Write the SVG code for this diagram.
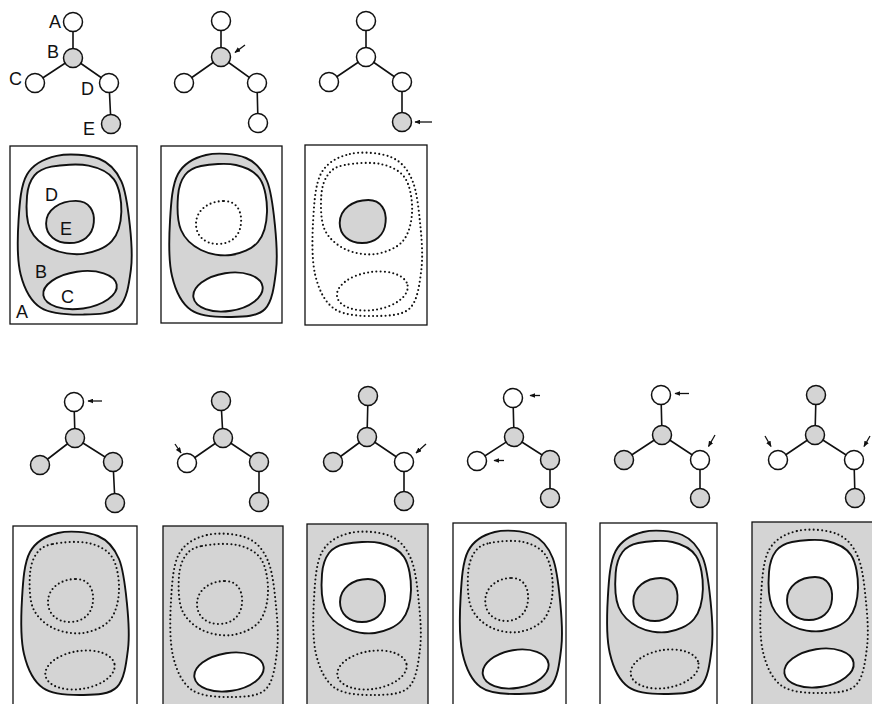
<svg xmlns="http://www.w3.org/2000/svg" xmlns:xlink="http://www.w3.org/1999/xlink" width="872" height="704" viewBox="0 0 872 704">
<style>
.bg{fill:#ffffff}
.box{stroke:#111;stroke-width:1.3}
.bw{fill:#ffffff}
.bgray{fill:#d4d4d4}
.sol{stroke:#111;stroke-width:1.9;stroke-linejoin:round}
.dot{stroke:#111;stroke-width:2.1;stroke-dasharray:0 4.2;stroke-linecap:round}
.fw{fill:#ffffff}
.fg{fill:#d4d4d4}
.fn{fill:none}
.nd{stroke:#111;stroke-width:1.5}
.ln{stroke:#111;stroke-width:1.6;fill:none}
.ar{stroke:#111;stroke-width:1.3;fill:none}
.lb{font-family:"Liberation Sans",Arial,sans-serif;font-size:18px;fill:#111}
</style>
<defs>
<path id="outer" vector-effect="non-scaling-stroke" d="M45,9 C56.3,6.3 74.8,7.7 85,12 C95.2,16.3 101.2,23.7 106,35 C110.8,46.3 112.5,65 114,80 C115.5,95 116.7,111.2 115,125 C113.3,138.8 111.5,155.3 104,163 C96.5,170.7 82.3,170.8 70,171 C57.7,171.2 39.8,170.8 30,164 C20.2,157.2 14.5,144.8 11,130 C7.5,115.2 8,92 9,75 C10,58 11,39 17,28 C23,17 33.7,11.7 45,9 Z"/>
<path id="dreg" vector-effect="non-scaling-stroke" d="M40,20 C48.5,18.3 65.2,16.8 75,19 C84.8,21.2 93.8,25.2 99,33 C104.2,40.8 106.3,55.5 106,66 C105.7,76.5 103,88.8 97,96 C91,103.2 79.5,107.7 70,109 C60.5,110.3 48.3,108.2 40,104 C31.7,99.8 23.8,93 20,84 C16.2,75 16.3,59.2 17,50 C17.7,40.8 20.2,34 24,29 C27.8,24 31.5,21.7 40,20 Z"/>
<path id="ereg" vector-effect="non-scaling-stroke" d="M63,55 C76,55 81,66 80,77 C79,91 69,98 57,98 C44,98 35,90 35,78 C35,64 48,55 63,55 Z"/>
<ellipse id="creg" vector-effect="non-scaling-stroke" cx="67" cy="146" rx="35" ry="19" transform="rotate(-9 67 146)"/>
<marker id="ah" viewBox="0 0 10 10" refX="9" refY="5" markerWidth="6" markerHeight="5" markerUnits="userSpaceOnUse" orient="auto" preserveAspectRatio="none"><path d="M0,0 L10,5 L0,10 z" fill="#111"/></marker>
</defs>
<rect class="bg" x="0" y="0" width="872" height="704"/>

<!-- Region panels -->
<g id="panel-top1">
<rect class="box bw" x="10" y="146" width="127" height="178"/>
<g transform="translate(9,147) scale(1.06,0.98)">
<use href="#outer" class="sol fg"/>
<use href="#dreg" class="sol fw"/>
<use href="#ereg" class="sol fg"/>
<use href="#creg" class="sol fw"/>
</g>
<text class="lb" x="45" y="201">D</text>
<text class="lb" x="60" y="235">E</text>
<text class="lb" x="35" y="278">B</text>
<text class="lb" x="61" y="303">C</text>
<text class="lb" x="16" y="318">A</text>
</g>
<g id="panel-top2">
<rect class="box bw" x="161" y="146" width="121" height="177"/>
<g transform="translate(161,146)">
<use href="#outer" class="sol fg"/>
<use href="#dreg" class="sol fw"/>
<use href="#ereg" class="dot fn"/>
<use href="#creg" class="sol fw"/>
</g>
</g>
<g id="panel-top3">
<rect class="box bw" x="305" y="145" width="122" height="180"/>
<g transform="translate(304,145) scale(1.02,1)">
<use href="#outer" class="dot fn"/>
<use href="#dreg" class="dot fn"/>
<use href="#ereg" class="sol fg"/>
<use href="#creg" class="dot fn"/>
</g>
</g>
<g id="panel-bot1">
<rect class="box bw" x="13" y="526" width="124" height="190"/>
<g transform="translate(13,524)">
<use href="#outer" class="sol fg"/>
<use href="#dreg" class="dot fn"/>
<use href="#ereg" class="dot fn"/>
<use href="#creg" class="dot fn"/>
</g>
</g>
<g id="panel-bot2">
<rect class="box bgray" x="163" y="526" width="120" height="190"/>
<g transform="translate(162,526)">
<use href="#outer" class="dot fn"/>
<use href="#dreg" class="dot fn"/>
<use href="#ereg" class="dot fn"/>
<use href="#creg" class="sol fw"/>
</g>
</g>
<g id="panel-bot3">
<rect class="box bgray" x="307" y="524" width="121" height="190"/>
<g transform="translate(305,524)">
<use href="#outer" class="dot fn"/>
<use href="#dreg" class="sol fw"/>
<use href="#ereg" class="sol fg"/>
<use href="#creg" class="dot fn"/>
</g>
</g>
<g id="panel-bot4">
<rect class="box bw" x="453" y="523" width="113" height="190"/>
<g transform="translate(452,523) scale(0.95,1)">
<use href="#outer" class="sol fg"/>
<use href="#dreg" class="dot fn"/>
<use href="#ereg" class="dot fn"/>
<use href="#creg" class="sol fw"/>
</g>
</g>
<g id="panel-bot5">
<rect class="box bw" x="600" y="523" width="117" height="190"/>
<g transform="translate(599,523) scale(0.98,1)">
<use href="#outer" class="sol fg"/>
<use href="#dreg" class="sol fw"/>
<use href="#ereg" class="sol fg"/>
<use href="#creg" class="dot fn"/>
</g>
</g>
<g id="panel-bot6">
<rect class="box bgray" x="752" y="522" width="130" height="190"/>
<g transform="translate(752,522)">
<use href="#outer" class="dot fn"/>
<use href="#dreg" class="sol fw"/>
<use href="#ereg" class="sol fg"/>
<use href="#creg" class="sol fw"/>
</g>
</g>

<!-- Connectors -->
<g id="connectors">
<path class="ln" d="M73,22 L73,58 M73,58 L35,83 M73,58 L109,83 L111,124"/>
<path class="ln" d="M221,21 L221,57 M221,57 L184,83 M221,57 L257,83 L258,123"/>
<path class="ln" d="M366,21 L366,57 M366,57 L329,82 M366,57 L402,82 L402,122"/>
<path class="ln" d="M74,402 L75,438 M75,438 L40,465 M75,438 L113,462 L115,503"/>
<path class="ln" d="M221,401 L223,438 M223,438 L187,463 M223,438 L259,462 L259,502"/>
<path class="ln" d="M368,396 L367,437 M367,437 L333,462 M367,437 L404,462 L404,501"/>
<path class="ln" d="M513,398 L514,437 M514,437 L477,461 M514,437 L550,460 L550,498"/>
<path class="ln" d="M661,395 L662,435 M662,435 L624,460 M662,435 L700,460 L700,498"/>
<path class="ln" d="M816,395 L815,435 M815,435 L778,460 M815,435 L854,460 L855,498"/>
</g>

<!-- Tree nodes -->
<g id="t1-A"><circle class="nd fw" cx="73" cy="22" r="9.5"/><text class="lb" x="49" y="28">A</text></g>
<g id="t1-B"><circle class="nd fg" cx="73" cy="58" r="9.5"/><text class="lb" x="47" y="58">B</text></g>
<g id="t1-C"><circle class="nd fw" cx="35" cy="83" r="9.5"/><text class="lb" x="9" y="85">C</text></g>
<g id="t1-D"><circle class="nd fw" cx="109" cy="83" r="9.5"/><text class="lb" x="81" y="95">D</text></g>
<g id="t1-E"><circle class="nd fg" cx="111" cy="124" r="9.5"/><text class="lb" x="83" y="135">E</text></g>

<g id="t2-A"><circle class="nd fw" cx="221" cy="21" r="9.5"/></g>
<g id="t2-B"><circle class="nd fg" cx="221" cy="57" r="9.5"/></g>
<g id="t2-C"><circle class="nd fw" cx="184" cy="83" r="9.5"/></g>
<g id="t2-D"><circle class="nd fw" cx="257" cy="83" r="9.5"/></g>
<g id="t2-E"><circle class="nd fw" cx="258" cy="123" r="9.5"/></g>

<g id="t3-A"><circle class="nd fw" cx="366" cy="21" r="9.5"/></g>
<g id="t3-B"><circle class="nd fw" cx="366" cy="57" r="9.5"/></g>
<g id="t3-C"><circle class="nd fw" cx="329" cy="82" r="9.5"/></g>
<g id="t3-D"><circle class="nd fw" cx="402" cy="82" r="9.5"/></g>
<g id="t3-E"><circle class="nd fg" cx="402" cy="122" r="9.5"/></g>

<g id="b1-A"><circle class="nd fw" cx="74" cy="402" r="9.5"/></g>
<g id="b1-B"><circle class="nd fg" cx="75" cy="438" r="9.5"/></g>
<g id="b1-C"><circle class="nd fg" cx="40" cy="465" r="9.5"/></g>
<g id="b1-D"><circle class="nd fg" cx="113" cy="462" r="9.5"/></g>
<g id="b1-E"><circle class="nd fg" cx="115" cy="503" r="9.5"/></g>

<g id="b2-A"><circle class="nd fg" cx="221" cy="401" r="9.5"/></g>
<g id="b2-B"><circle class="nd fg" cx="223" cy="438" r="9.5"/></g>
<g id="b2-C"><circle class="nd fw" cx="187" cy="463" r="9.5"/></g>
<g id="b2-D"><circle class="nd fg" cx="259" cy="462" r="9.5"/></g>
<g id="b2-E"><circle class="nd fg" cx="259" cy="502" r="9.5"/></g>

<g id="b3-A"><circle class="nd fg" cx="368" cy="396" r="9.5"/></g>
<g id="b3-B"><circle class="nd fg" cx="367" cy="437" r="9.5"/></g>
<g id="b3-C"><circle class="nd fg" cx="333" cy="462" r="9.5"/></g>
<g id="b3-D"><circle class="nd fw" cx="404" cy="462" r="9.5"/></g>
<g id="b3-E"><circle class="nd fg" cx="404" cy="501" r="9.5"/></g>

<g id="b4-A"><circle class="nd fw" cx="513" cy="398" r="9.5"/></g>
<g id="b4-B"><circle class="nd fg" cx="514" cy="437" r="9.5"/></g>
<g id="b4-C"><circle class="nd fw" cx="477" cy="461" r="9.5"/></g>
<g id="b4-D"><circle class="nd fg" cx="550" cy="460" r="9.5"/></g>
<g id="b4-E"><circle class="nd fg" cx="550" cy="498" r="9.5"/></g>

<g id="b5-A"><circle class="nd fw" cx="661" cy="395" r="9.5"/></g>
<g id="b5-B"><circle class="nd fg" cx="662" cy="435" r="9.5"/></g>
<g id="b5-C"><circle class="nd fg" cx="624" cy="460" r="9.5"/></g>
<g id="b5-D"><circle class="nd fw" cx="700" cy="460" r="9.5"/></g>
<g id="b5-E"><circle class="nd fg" cx="700" cy="498" r="9.5"/></g>

<g id="b6-A"><circle class="nd fg" cx="816" cy="395" r="9.5"/></g>
<g id="b6-B"><circle class="nd fg" cx="815" cy="435" r="9.5"/></g>
<g id="b6-C"><circle class="nd fw" cx="778" cy="460" r="9.5"/></g>
<g id="b6-D"><circle class="nd fw" cx="854" cy="460" r="9.5"/></g>
<g id="b6-E"><circle class="nd fg" cx="855" cy="498" r="9.5"/></g>

<!-- Pointer arrows -->
<g id="pointers">
<line class="ar" x1="245" y1="45" x2="235" y2="52.5" marker-end="url(#ah)"/>
<line class="ar" x1="432" y1="122" x2="415" y2="122" marker-end="url(#ah)"/>
<line class="ar" x1="102" y1="401" x2="88" y2="401" marker-end="url(#ah)"/>
<line class="ar" x1="175" y1="444" x2="181" y2="453" marker-end="url(#ah)"/>
<line class="ar" x1="426" y1="444" x2="416" y2="453" marker-end="url(#ah)"/>
<line class="ar" x1="540" y1="395.5" x2="530" y2="395.5" marker-end="url(#ah)"/>
<line class="ar" x1="504" y1="460.5" x2="494" y2="460.5" marker-end="url(#ah)"/>
<line class="ar" x1="689" y1="393.5" x2="675" y2="393.5" marker-end="url(#ah)"/>
<line class="ar" x1="715" y1="435" x2="708.5" y2="446.5" marker-end="url(#ah)"/>
<line class="ar" x1="765" y1="436" x2="771" y2="446.5" marker-end="url(#ah)"/>
<line class="ar" x1="870" y1="436" x2="864" y2="446.5" marker-end="url(#ah)"/>
</g>
</svg>
